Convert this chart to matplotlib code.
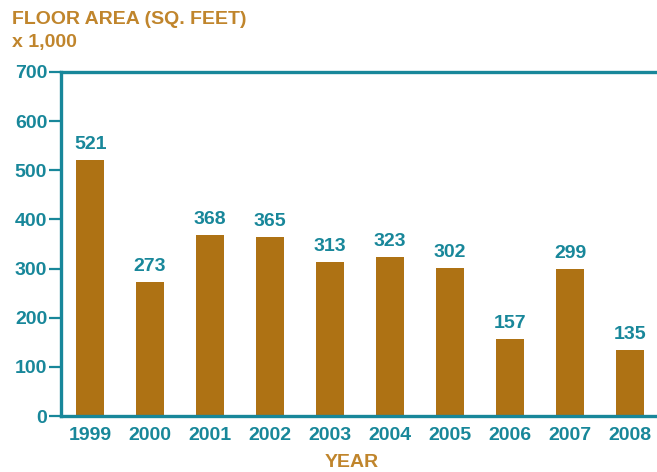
import matplotlib
matplotlib.use("Agg")
import matplotlib.pyplot as plt

# floor area in thousands of sq. feet, per year
years = ["1999", "2000", "2001", "2002", "2003", "2004", "2005", "2006", "2007", "2008"]
area = [521, 273, 368, 365, 313, 323, 302, 157, 299, 135]
yticks = [0, 100, 200, 300, 400, 500, 600, 700]

BAR = "#AE7214"
TEAL = "#18879A"
BROWN = "#C0852C"

plt.rcParams['font.family'] = ['Liberation Sans', 'DejaVu Sans']
plt.rcParams['font.weight'] = 'bold'

fig = plt.figure(figsize=(6.57, 4.72), dpi=100)
ax = fig.add_axes([0.093, 0.1186, 0.907, 0.729])

x = list(range(len(years)))
ax.bar(x, area, width=0.47, color=BAR)
for xi, v in zip(x, area):
    ax.annotate(str(v), (xi, v), xytext=(0, 5), textcoords="offset points",
                ha="center", va="bottom", color=TEAL, fontsize=14, fontweight="bold")

ax.set_xlim(-0.484, 9.45)
ax.set_ylim(0, 700)
ax.set_yticks(yticks)
ax.set_xticks(x)
ax.set_xticklabels(years)
for s in ["left", "top", "bottom"]:
    ax.spines[s].set_color(TEAL)
    ax.spines[s].set_linewidth(2.4)
ax.spines["right"].set_visible(False)
ax.tick_params(axis="y", colors=TEAL, labelsize=14, length=9, width=1.6, pad=1)
ax.tick_params(axis="x", colors=TEAL, labelsize=14, length=0, pad=8)

fig.text(0.018, 0.958, "FLOOR AREA (SQ. FEET)", color=BROWN, fontsize=14,
         fontweight="bold", va="center", ha="left")
fig.text(0.018, 0.909, "x 1,000", color=BROWN, fontsize=14,
         fontweight="bold", va="center", ha="left")
fig.text(0.536, 0.021, "YEAR", color=BROWN, fontsize=14,
         fontweight="bold", va="center", ha="center")

fig.savefig("out.png", dpi=100)
